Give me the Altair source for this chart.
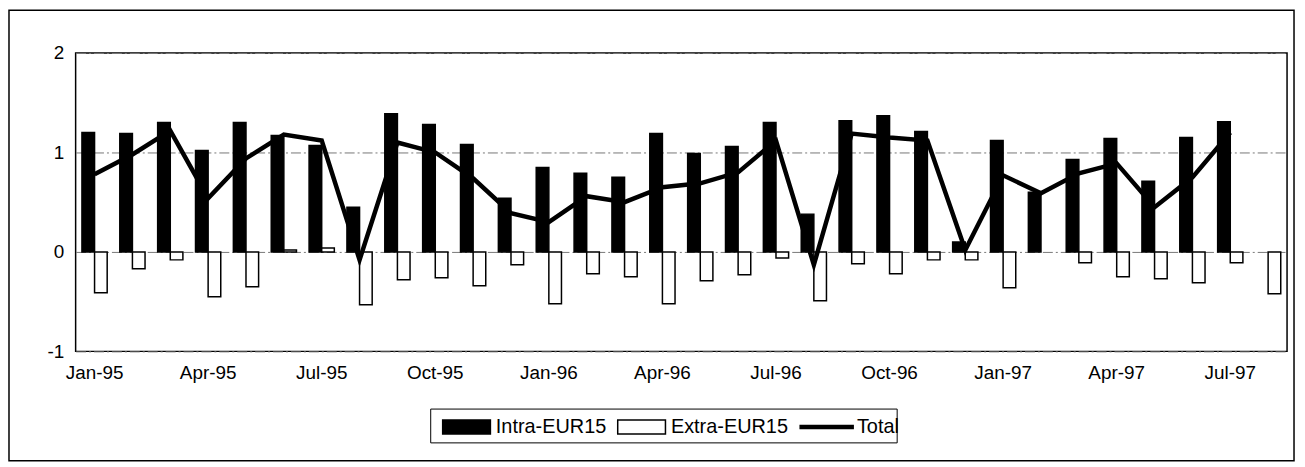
import altair as alt
import pandas as pd

months = ["Jan-95", "Feb-95", "Mar-95", "Apr-95", "May-95", "Jun-95", "Jul-95", "Aug-95",
          "Sep-95", "Oct-95", "Nov-95", "Dec-95", "Jan-96", "Feb-96", "Mar-96", "Apr-96",
          "May-96", "Jun-96", "Jul-96", "Aug-96", "Sep-96", "Oct-96", "Nov-96", "Dec-96",
          "Jan-97", "Feb-97", "Mar-97", "Apr-97", "May-97", "Jun-97", "Jul-97", "Aug-97"]

intra = [1.20, 1.19, 1.30, 1.02, 1.30, 1.17, 1.07, 0.45, 1.39, 1.28, 1.08, 0.54,
         0.85, 0.79, 0.75, 1.19, 0.99, 1.06, 1.30, 0.38, 1.32, 1.37, 1.21, 0.10,
         1.12, 0.60, 0.93, 1.14, 0.71, 1.15, 1.31, None]

extra = [-0.41, -0.17, -0.08, -0.45, -0.35, 0.02, 0.04, -0.53, -0.28, -0.26, -0.34, -0.13,
         -0.52, -0.22, -0.25, -0.52, -0.29, -0.23, -0.06, -0.49, -0.12, -0.22, -0.08, -0.08,
         -0.36, None, -0.11, -0.25, -0.27, -0.31, -0.11, -0.42]

total = [0.78, 0.98, 1.22, 0.54, 0.94, 1.18, 1.12, -0.08, 1.10, 1.00, 0.74, 0.39,
         0.30, 0.56, 0.50, 0.65, 0.69, 0.80, 1.12, -0.13, 1.19, 1.15, 1.12, 0.02,
         0.77, 0.59, 0.79, 0.89, 0.45, 0.75, 1.20, None]

series_names = ["Intra-EUR15", "Extra-EUR15", "Total"]
y_ticks = [-1, 0, 1, 2]

rows = []
for m, a, b in zip(months, intra, extra):
    if a is not None:
        rows.append({"month": m, "series": series_names[0], "value": a})
    if b is not None:
        rows.append({"month": m, "series": series_names[1], "value": b})
bars_df = pd.DataFrame(rows)
line_df = pd.DataFrame([{"month": m, "value": t} for m, t in zip(months, total) if t is not None])
legend_df = pd.DataFrame({"series": series_names})

FONT = "Liberation Sans"
RECT_PATH = "M-2.93,-0.93H3.47V0.93H-2.93Z"
LINE_PATH = "M-3.4,-0.2H3.7V0.2H-3.4Z"

fill_scale = alt.Scale(domain=series_names, range=["black", "white", "black"])
stroke_scale = alt.Scale(domain=series_names, range=["black", "black", "black"])

legend_props = dict(
    title=None, orient="none", legendX=381, legendY=366,
    direction="horizontal", columns=3,
    labelFontSize=20, labelFont=FONT, labelColor="black",
    labelOffset=21.5, columnPadding=8, padding=0,
    symbolSize=225, symbolStrokeColor="black", symbolStrokeWidth=1.5,
    symbolOpacity=1,
)

x_enc = alt.X(
    "month:N", sort=months,
    scale=alt.Scale(paddingInner=1 / 3, paddingOuter=1 / 6),
    axis=alt.Axis(
        title=None, labelAngle=0, ticks=False, domain=False, grid=False,
        labelOverlap=False, labelFontSize=19, labelFont=FONT, labelColor="black",
        labelPadding=12,
        labelExpr="indexof(['Jan','Apr','Jul','Oct'], slice(datum.label,0,3)) >= 0 ? datum.label : ''",
    ),
)
y_enc = alt.Y(
    "value:Q",
    scale=alt.Scale(domain=[-1, 2], nice=False, zero=False),
    axis=alt.Axis(
        values=y_ticks, title=None, ticks=False, domain=False, grid=True,
        gridColor="#777777", gridDash=[10, 3, 2, 3], gridWidth=1,
        labelFontSize=19, labelFont=FONT, labelColor="black", labelPadding=12,
        labelExpr="'' + datum.value",
    ),
)

bars = alt.Chart(bars_df).mark_bar(strokeWidth=1.5).encode(
    x=x_enc,
    xOffset=alt.XOffset("series:N", sort=series_names[:2],
                        scale=alt.Scale(domain=series_names[:2], paddingInner=0, paddingOuter=0)),
    y=y_enc,
    fill=alt.Fill("series:N", scale=fill_scale, legend=alt.Legend(**legend_props)),
    stroke=alt.Stroke("series:N", scale=stroke_scale, legend=alt.Legend(**legend_props)),
)

line = alt.Chart(line_df).mark_line(color="black", strokeWidth=4.5).encode(
    x=alt.X("month:N", sort=months),
    y=alt.Y("value:Q"),
)

legend_pts = alt.Chart(legend_df).mark_point(
    filled=True, strokeWidth=1.5, opacity=1, size=225
).encode(
    x=alt.value(-3000), y=alt.value(-3000),
    fill=alt.Fill("series:N", scale=fill_scale, legend=alt.Legend(**legend_props)),
    stroke=alt.Stroke("series:N", scale=stroke_scale, legend=alt.Legend(**legend_props)),
    shape=alt.Shape("series:N",
                    scale=alt.Scale(domain=series_names, range=[RECT_PATH, RECT_PATH, LINE_PATH]),
                    legend=alt.Legend(**legend_props)),
)

legend_box = alt.Chart(alt.Data(values=[{"k": 1}])).mark_rect(
    fill="transparent", stroke="black", strokeWidth=1
).encode(
    x=alt.value(357), x2=alt.value(826), y=alt.value(358), y2=alt.value(392)
)

frame = alt.Chart(alt.Data(values=[{"k": 1}])).mark_rect(
    fill="transparent", stroke="black", strokeWidth=1.5
).encode(
    x=alt.value(-67), x2=alt.value(1225), y=alt.value(-43), y2=alt.value(410)
)

chart = alt.layer(bars, line, legend_pts, legend_box, frame).properties(
    width=1218, height=300,
    autosize="none",
    padding={"left": 68, "top": 44, "right": 10, "bottom": 113},
    background="white",
).configure_view(stroke="black", strokeWidth=1.5).configure_axis(labelFont=FONT)

chart.save("out.html", embed_options={"renderer": "svg", "actions": False})
